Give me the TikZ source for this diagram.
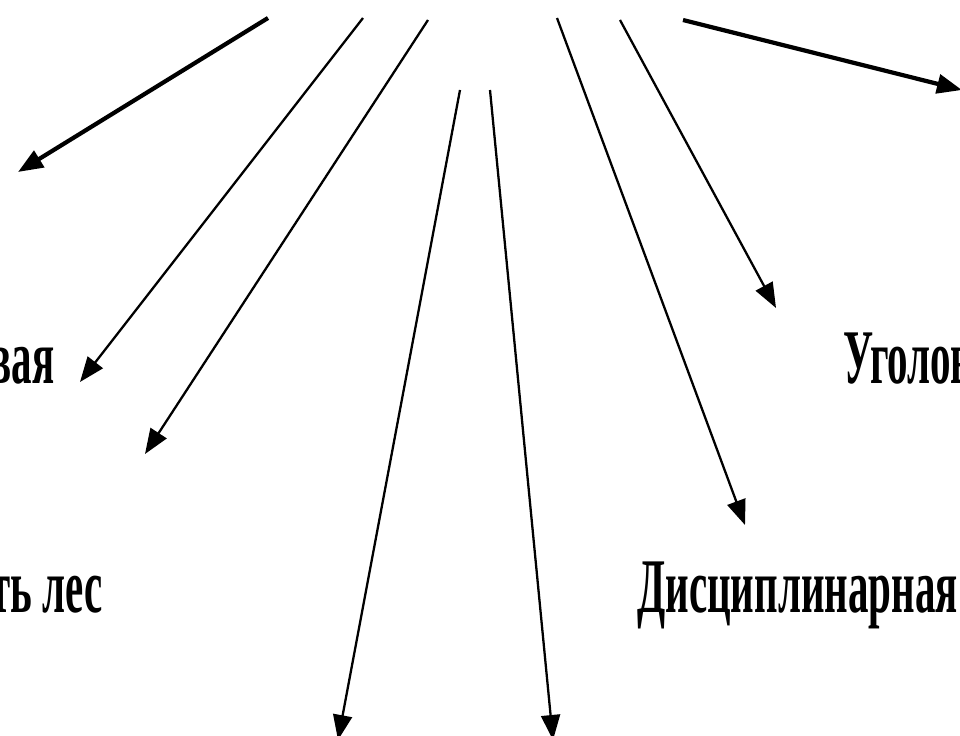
\documentclass[tikz,border=0pt]{standalone}
\usepackage{fontspec}
\setmainfont{Liberation Serif}[FakeStretch=0.53]
\usetikzlibrary{arrows.meta}

\tikzset{
  ray/.style={line width=1.3pt, -{Triangle[length=0.5cm, width=0.38cm]}},
  bigray/.style={ray, line width=2.4pt},
  label/.style={inner sep=0pt, font=\fontsize{44}{50}\selectfont\bfseries}
}

\begin{document}
\begin{tikzpicture}[x=0.02cm, y=-0.02cm]
  \useasboundingbox (0,0) rectangle (960,736);
  \clip (0,0) rectangle (960,736);

  % labels (cut off by the frame)
  \node[label, anchor=base east] (grazhd) at (55,383) {вая};
  \node[label, anchor=base east] (les) at (103,612) {ть лес};
  \node[label, anchor=base west] (ugol) at (843,383) {Уголов};
  \node[label, anchor=base west] (discip) at (637,612) {Дисциплинарная};

  % start and end points of the rays
  \coordinate (s1) at (268,18);  \coordinate (e1) at (18,172);
  \coordinate (s2) at (363,18);  \coordinate (e2) at (80,382);
  \coordinate (s3) at (428,20);  \coordinate (e3) at (145,454);
  \coordinate (s4) at (460,90);  \coordinate (e4) at (338,740);
  \coordinate (s5) at (490,90);  \coordinate (e5) at (553,740);
  \coordinate (s6) at (557,18);  \coordinate (e6) at (745,525);
  \coordinate (s7) at (620,20);  \coordinate (e7) at (776,308);
  \coordinate (s8) at (683,20);  \coordinate (e8) at (962,90);

  \draw[bigray] (s1) -- (e1);
  \draw[ray] (s2) -- (e2);
  \draw[ray] (s3) -- (e3);
  \draw[ray] (s4) -- (e4);
  \draw[ray] (s5) -- (e5);
  \draw[ray] (s6) -- (e6);
  \draw[ray] (s7) -- (e7);
  \draw[bigray] (s8) -- (e8);
\end{tikzpicture}
\end{document}
